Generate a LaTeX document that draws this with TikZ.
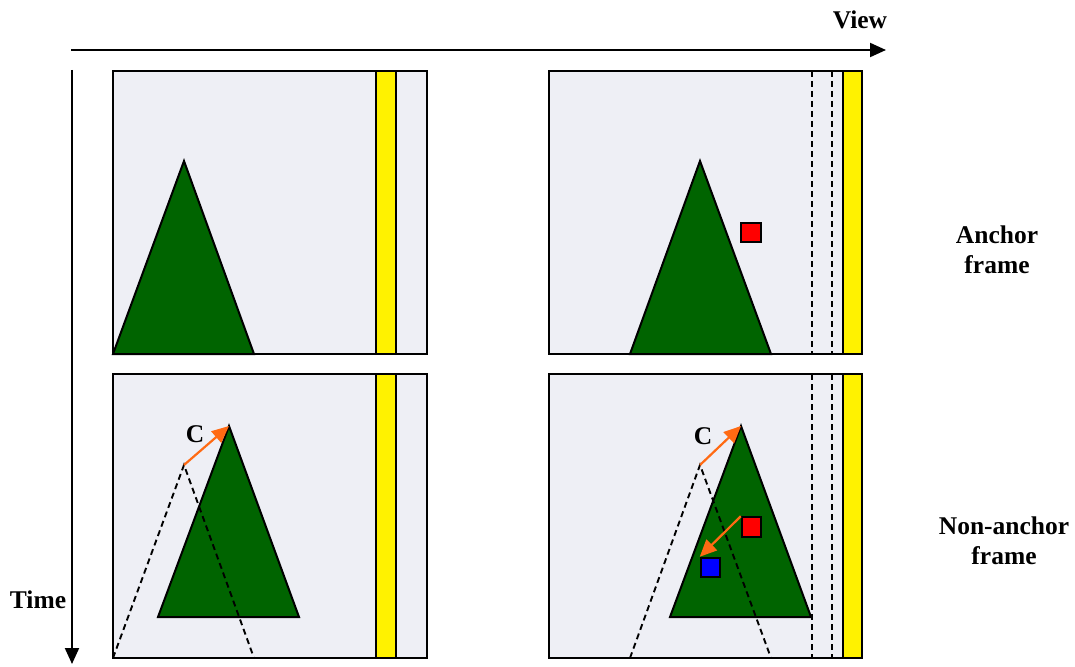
\documentclass[tikz,border=0pt]{standalone}
\usepackage{fontspec}
\setmainfont{Liberation Serif}
\usetikzlibrary{arrows.meta}
\definecolor{panelbg}{HTML}{EEEFF5}
\definecolor{treegreen}{HTML}{006400}
\definecolor{arroworange}{HTML}{FF6A13}
\begin{document}
\begin{tikzpicture}[x=1pt,y=-1pt,line join=miter,
  panel/.style={draw=black,line width=2pt,fill=panelbg},
  bar/.style={draw=black,line width=2pt,fill=yellow},
  tree/.style={draw=black,line width=2pt,fill=treegreen},
  ghost/.style={draw=black,line width=1.9pt,dash pattern=on 6pt off 4pt},
  lbl/.style={font=\fontsize{25.5}{30}\selectfont\bfseries,align=center,inner sep=0pt},
  axis/.style={line width=2pt,-{Triangle[length=16pt,width=14pt]}},
  motion/.style={draw=arroworange,line width=2.2pt,-{Triangle[length=17pt,width=15pt]}},
  blob/.style={draw=black,line width=2pt,minimum size=19.5pt,inner sep=0pt}]
\useasboundingbox (0,0) rectangle (1075,666);

% axes
\coordinate (vs) at (71,50);
\coordinate (ve) at (886,50);
\coordinate (ts) at (72,70);
\coordinate (te) at (72,664);
\draw[axis] (vs) -- (ve);
\draw[axis] (ts) -- (te);
\node[lbl] (view) at (860,20) {View};
\node[lbl] (time) at (38,600) {Time};
\node[lbl] (anchor) at (997,250) {Anchor\\frame};
\node[lbl] (nonanchor) at (1004,541) {Non-anchor\\frame};

% top-left panel
\draw[panel] (113,71) rectangle (427,354);
\draw[bar] (376,71) rectangle (396,354);
\coordinate (tlA) at (184,161);
\coordinate (tlL) at (113,354);
\coordinate (tlR) at (254,354);
\draw[tree] (tlA) -- (tlL) -- (tlR) -- cycle;

% top-right panel
\draw[panel] (549,71) rectangle (862,354);
\draw[bar] (843,71) rectangle (862,354);
\draw[ghost] (812,71) -- (812,354);
\draw[ghost] (832,71) -- (832,354);
\coordinate (trA) at (700,161);
\coordinate (trL) at (630,354);
\coordinate (trR) at (771,354);
\draw[tree] (trA) -- (trL) -- (trR) -- cycle;
\node[blob,fill=red] (redT) at (751,232.5) {};

% bottom-left panel
\draw[panel] (113,374) rectangle (427,658);
\draw[bar] (376,374) rectangle (396,658);
\coordinate (blA) at (229,426);
\coordinate (blL) at (158,617);
\coordinate (blR) at (299,617);
\draw[tree] (blA) -- (blL) -- (blR) -- cycle;
\coordinate (blgA) at (184,465);
\coordinate (blgL) at (113,658);
\coordinate (blgR) at (254,658);
\draw[ghost] (blgL) -- (blgA) -- (blgR);
\draw[motion] (blgA) -- (blA);
\node[lbl] (cL) at (195,434) {C};

% bottom-right panel
\draw[panel] (549,374) rectangle (862,658);
\draw[bar] (843,374) rectangle (862,658);
\draw[ghost] (812,374) -- (812,658);
\draw[ghost] (832,374) -- (832,658);
\coordinate (brA) at (741,426);
\coordinate (brL) at (670,617);
\coordinate (brR) at (811,617);
\draw[tree] (brA) -- (brL) -- (brR) -- cycle;
\coordinate (brgA) at (700,465);
\coordinate (brgL) at (630,658);
\coordinate (brgR) at (771,658);
\draw[ghost] (brgL) -- (brgA) -- (brgR);
\draw[motion] (brgA) -- (brA);
\node[lbl] (cR) at (703,436) {C};
\node[blob,fill=red] (redB) at (751.5,527) {};
\node[blob,fill=blue] (blueB) at (710.5,567.5) {};
\draw[motion] (redB.north west) -- (blueB.north west);
\end{tikzpicture}
\end{document}
